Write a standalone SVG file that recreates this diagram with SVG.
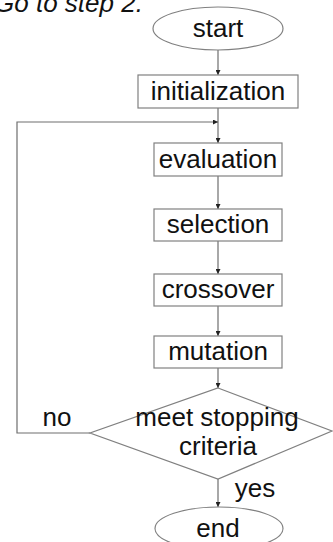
<svg xmlns="http://www.w3.org/2000/svg" width="333" height="542" viewBox="0 0 333 542">
<style>
.box{fill:#fff;stroke:#808080;stroke-width:1.2}
.ln{fill:none;stroke:#6e6e6e;stroke-width:1.2}
.t{font-family:"Liberation Sans",Arial,sans-serif;font-size:26px;fill:#111;text-anchor:middle}
.tl{font-family:"Liberation Sans",Arial,sans-serif;font-size:26px;fill:#111}
</style>
<defs>
<marker id="ah" viewBox="0 0 10 10" refX="10" refY="5" markerWidth="5" markerHeight="5" markerUnits="userSpaceOnUse" orient="auto">
<path d="M0,0 L10,5 L0,10 z" fill="#222"/>
</marker>
</defs>
<rect width="333" height="542" fill="#fff"/>
<text class="tl" x="-6" y="12" font-style="italic">Go to step 2.</text>
<g id="connectors">
<line class="ln" x1="218" y1="50" x2="218" y2="75" marker-end="url(#ah)"/>
<line class="ln" x1="218" y1="108" x2="218" y2="143" marker-end="url(#ah)"/>
<polyline class="ln" points="90,433 17,433 17,122 218,122" marker-end="url(#ah)"/>
<line class="ln" x1="218" y1="176" x2="218" y2="209" marker-end="url(#ah)"/>
<line class="ln" x1="218" y1="241" x2="218" y2="274" marker-end="url(#ah)"/>
<line class="ln" x1="218" y1="306" x2="218" y2="336" marker-end="url(#ah)"/>
<line class="ln" x1="218" y1="368" x2="218" y2="388" marker-end="url(#ah)"/>
<line class="ln" x1="218" y1="479" x2="218" y2="507" marker-end="url(#ah)"/>
<text class="t" x="57" y="426">no</text>
<text class="t" x="255" y="497">yes</text>
</g>
<g id="start">
<ellipse class="box" cx="218" cy="28.5" rx="65" ry="21.5"/>
<text class="t" x="218" y="37">start</text>
</g>
<g id="initialization">
<rect class="box" x="138" y="75" width="160" height="33"/>
<text class="t" x="218" y="100">initialization</text>
</g>
<g id="evaluation">
<rect class="box" x="154" y="143" width="128" height="33"/>
<text class="t" x="218" y="168">evaluation</text>
</g>
<g id="selection">
<rect class="box" x="154" y="209" width="128" height="32"/>
<text class="t" x="218" y="233">selection</text>
</g>
<g id="crossover">
<rect class="box" x="154" y="274" width="128" height="32"/>
<text class="t" x="218" y="298">crossover</text>
</g>
<g id="mutation">
<rect class="box" x="154" y="336" width="128" height="32"/>
<text class="t" x="218" y="360">mutation</text>
</g>
<g id="decision">
<polygon class="box" points="218,388 332,431 218,479 90,433"/>
<text class="t" x="217" y="426">meet stopping</text>
<text class="t" x="218" y="455">criteria</text>
</g>
<g id="end">
<ellipse class="box" cx="219" cy="528.5" rx="64" ry="21.5"/>
<text class="t" x="218" y="537">end</text>
</g>
</svg>
